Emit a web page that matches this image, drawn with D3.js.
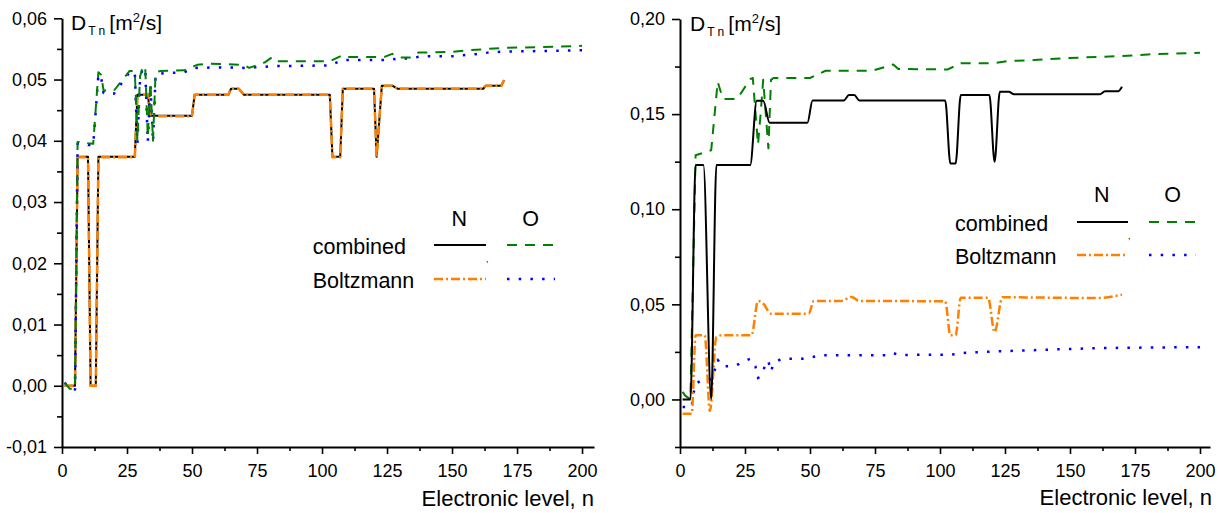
<!DOCTYPE html>
<html>
<head>
<meta charset="utf-8">
<script src="https://cdn.jsdelivr.net/npm/d3@7"></script>
<style>
  html, body { margin: 0; padding: 0; background: #fff; }
  svg { display: block; font-family: "Liberation Sans", Arial, sans-serif; }
</style>
</head>
<body>
<svg id="chart" width="1223" height="513"></svg>
<script>
// Thermal diffusion coefficients D_T,n versus electronic level n.
// Each series is a list of [level, value] vertices.

// ---- left panel ----
const leftNCombined = [[1,0.0000],[5,0.0000],[6,0.0374],[10,0.0374],[11,0.0000],[13,0.0000],[14,0.0374],[28,0.0374],[29,0.0475],[33,0.0475],[34,0.0441],[50,0.0441],[51,0.0475],[64,0.0475],[65,0.0485],[68,0.0485],[70,0.0475],[103,0.0475],[104,0.0374],[107,0.0374],[108,0.0485],[120,0.0485],[121,0.0374],[123,0.0490],[127,0.0490],[129,0.0485],[162,0.0485],[163,0.0490],[169,0.0490],[170,0.0499]];
const leftNBoltzmann = [[1,0.0000],[5,0.0000],[6,0.0373],[10,0.0373],[11,0.0000],[13,0.0000],[14,0.0373],[28,0.0373],[29,0.0475],[33,0.0475],[34,0.0440],[50,0.0440],[51,0.0475],[64,0.0475],[65,0.0485],[68,0.0485],[70,0.0475],[103,0.0475],[104,0.0373],[107,0.0373],[108,0.0485],[120,0.0485],[121,0.0373],[123,0.0490],[127,0.0490],[129,0.0485],[162,0.0485],[163,0.0490],[169,0.0490],[170,0.0499]];
const leftOCombined = [[1,0.0005],[3,-0.0005],[5,-0.0005],[6,0.0398],[9,0.0398],[10,0.0396],[12,0.0395],[14,0.0512],[15,0.0508],[16,0.0482],[20,0.0482],[26,0.0514],[28,0.0514],[29,0.0400],[30,0.0505],[31,0.0520],[32,0.0522],[33,0.0406],[34,0.0495],[35,0.0400],[36,0.0512],[38,0.0514],[47,0.0515],[52,0.0524],[56,0.0526],[63,0.0525],[70,0.0524],[72,0.0519],[78,0.0528],[81,0.0537],[83,0.0530],[103,0.0530],[108,0.0540],[110,0.0537],[124,0.0537],[127,0.0542],[130,0.0536],[134,0.0536],[137,0.0544],[150,0.0545],[157,0.0548],[164,0.0550],[171,0.0552],[185,0.0553],[200,0.0555]];
const leftOBoltzmann = [[1,0.0005],[3,-0.0004],[5,-0.0006],[6,0.0395],[9,0.0395],[10,0.0393],[12,0.0393],[14,0.0508],[15,0.0505],[16,0.0478],[20,0.0477],[26,0.0512],[28,0.0512],[29,0.0395],[30,0.0500],[31,0.0518],[32,0.0518],[33,0.0398],[34,0.0492],[35,0.0398],[36,0.0508],[38,0.0510],[47,0.0512],[51,0.0519],[63,0.0520],[70,0.0519],[74,0.0520],[82,0.0522],[103,0.0523],[108,0.0532],[126,0.0532],[130,0.0535],[134,0.0534],[138,0.0538],[150,0.0538],[158,0.0541],[166,0.0545],[175,0.0546],[192,0.0547],[200,0.0548]];

// ---- right panel ----
const rightNCombined = [[1,0.0000],[4,0.0000],[6,0.1232],[9,0.1232],[12,0.0000],[14,0.1232],[27,0.1232],[29.5,0.1570],[32,0.1570],[34.5,0.1454],[49,0.1454],[51,0.1572],[63,0.1572],[65,0.1600],[67,0.1600],[69,0.1572],[102,0.1572],[104,0.1240],[106,0.1240],[108,0.1600],[119,0.1600],[121,0.1249],[123,0.1617],[126.5,0.1617],[128.5,0.1604],[161.5,0.1604],[163.5,0.1620],[168.5,0.1620],[170,0.1644]];
const rightNBoltzmann = [[1,-0.0075],[4.5,-0.0075],[6,0.0337],[9.5,0.0337],[11.5,-0.0060],[14,0.0328],[16,0.0337],[27.5,0.0337],[30,0.0518],[32,0.0504],[35,0.0451],[49.5,0.0451],[51.5,0.0518],[62,0.0518],[66,0.0539],[69,0.0518],[102,0.0516],[104,0.0337],[106,0.0337],[108,0.0535],[118.5,0.0535],[121,0.0354],[124,0.0537],[161,0.0533],[170,0.0551]];
const rightOCombined = [[1,0.0040],[2,0.0020],[4,0.0000],[6,0.1284],[12,0.1310],[14.5,0.1670],[16.5,0.1580],[22,0.1580],[27,0.1684],[28,0.1690],[30,0.1340],[31,0.1500],[32,0.1680],[33,0.1500],[34,0.1320],[35,0.1680],[36,0.1690],[50,0.1690],[56,0.1728],[74,0.1728],[82,0.1761],[84,0.1737],[103,0.1735],[108,0.1767],[120,0.1767],[126,0.1779],[136,0.1784],[142,0.1790],[155,0.1798],[170,0.1805],[180,0.1814],[200,0.1822]];
const rightOBoltzmann = [[1,-0.0040],[4.5,-0.0040],[5,0.0020],[6,0.0083],[9,0.0105],[12,0.0105],[13.5,0.0160],[14.5,0.0209],[16,0.0175],[21,0.0175],[24,0.0196],[27,0.0214],[29,0.0175],[30,0.0112],[32,0.0144],[33,0.0200],[34,0.0200],[35,0.0147],[36,0.0191],[39,0.0214],[47,0.0214],[51,0.0223],[55,0.0232],[80,0.0232],[82,0.0244],[84,0.0234],[104,0.0235],[110,0.0246],[123,0.0253],[142,0.0262],[161,0.0270],[173,0.0272],[200,0.0275]];

// ---- axis ticks ----
const xTicks = [0, 25, 50, 75, 100, 125, 150, 175, 200];
const xMinorTicks = [12.5, 37.5, 62.5, 87.5, 112.5, 137.5, 162.5, 187.5];
const leftYTicks = [-0.01, 0.00, 0.01, 0.02, 0.03, 0.04, 0.05, 0.06];
const leftYMinorTicks = [-0.005, 0.005, 0.015, 0.025, 0.035, 0.045, 0.055];
const rightYTicks = [0.00, 0.05, 0.10, 0.15, 0.20];
const rightYMinorTicks = [-0.025, 0.025, 0.075, 0.125, 0.175];

// ---- legend labels ----
const speciesLabels = ["N", "O"];
const modelLabels = ["combined", "Boltzmann"];

const styles = {
  nComb:  { color: "#000000", width: 2,   dash: null },
  nBoltz: { color: "#ff8000", width: 2.5, dash: "9,3,2,3" },
  oComb:  { color: "#008000", width: 2,   dash: "10,8" },
  oBoltz: { color: "#0000ff", width: 2.5, dash: "2.5,9.2" }
};

const svg = d3.select("#chart");
const fmt = v => (Math.abs(v) < 1e-9 ? "0,00" : v.toFixed(2).replace(".", ","));

function drawPanel(cfg) {
  const x = d3.scaleLinear().domain(cfg.xDomain).range([cfg.left, cfg.right]);
  const y = d3.scaleLinear().domain(cfg.yDomain).range([cfg.bottom, cfg.top]);
  const g = svg.append("g");

  // minor ticks
  g.append("g").attr("transform", `translate(0,${cfg.bottom})`)
    .call(d3.axisBottom(x).tickValues(xMinorTicks).tickSize(4).tickFormat(""))
    .call(a => a.select(".domain").remove())
    .call(a => a.selectAll("line").attr("stroke-width", 1.6));
  g.append("g").attr("transform", `translate(${cfg.left},0)`)
    .call(d3.axisLeft(y).tickValues(cfg.yMinor).tickSize(5).tickFormat(""))
    .call(a => a.select(".domain").remove())
    .call(a => a.selectAll("line").attr("stroke-width", 1.6));

  // major ticks
  g.append("g").attr("transform", `translate(0,${cfg.bottom})`)
    .call(d3.axisBottom(x).tickValues(xTicks).tickSize(7).tickSizeOuter(0).tickPadding(10).tickFormat(d3.format("d")))
    .call(a => a.select(".domain").attr("stroke-width", 2))
    .call(a => a.selectAll("line").attr("stroke-width", 1.6))
    .call(a => a.selectAll("text").attr("font-size", 18).attr("fill", "#000")
      .attr("font-family", "Liberation Sans, Arial, sans-serif"));
  g.append("g").attr("transform", `translate(${cfg.left},0)`)
    .call(d3.axisLeft(y).tickValues(cfg.yTicks).tickSize(8).tickSizeOuter(0).tickPadding(7).tickFormat(fmt))
    .call(a => a.select(".domain").attr("stroke-width", 2))
    .call(a => a.selectAll("line").attr("stroke-width", 1.6))
    .call(a => a.selectAll("text").attr("font-size", 18).attr("fill", "#000")
      .attr("font-family", "Liberation Sans, Arial, sans-serif"));

  // data lines
  cfg.series.forEach(s => {
    const line = d3.line().x(d => x(d[0])).y(d => y(d[1])).curve(s.curve);
    const st = styles[s.style];
    g.append("path").datum(s.data)
      .attr("d", line)
      .attr("fill", "none")
      .attr("stroke", st.color)
      .attr("stroke-width", st.width)
      .attr("stroke-dasharray", st.dash)
      .attr("stroke-linejoin", "round");
  });

  // y-axis title
  const t = g.append("text").attr("x", cfg.titleX).attr("y", cfg.titleY)
    .attr("font-size", 21).attr("fill", "#000");
  t.append("tspan").text("D");
  t.append("tspan").attr("font-size", 12).attr("dx", 2).attr("dy", 5).text("T n");
  t.append("tspan").attr("dx", 4).attr("dy", -5).text("[m");
  t.append("tspan").attr("font-size", 13).attr("dy", -8).text("2");
  t.append("tspan").attr("dy", 8).text("/s]");

  // x-axis title
  g.append("text").attr("x", cfg.xTitleX).attr("y", cfg.xTitleY)
    .attr("text-anchor", "end").attr("font-size", 22).attr("fill", "#000")
    .text("Electronic level, n");

  // legend
  const L = cfg.legend;
  g.append("text").attr("x", L.nX).attr("y", L.headY).attr("text-anchor", "middle")
    .attr("font-size", 21.5).text(speciesLabels[0]);
  g.append("text").attr("x", L.oX).attr("y", L.headY).attr("text-anchor", "middle")
    .attr("font-size", 21.5).text(speciesLabels[1]);
  [[modelLabels[0], L.row1, "nComb", "oComb"], [modelLabels[1], L.row2, "nBoltz", "oBoltz"]]
    .forEach(([label, row, sn, so]) => {
      g.append("text").attr("x", L.textX).attr("y", row + 8.5).attr("font-size", 21.5).text(label);
      [[sn, L.nLine], [so, L.oLine]].forEach(([k, xs]) => {
        const st = styles[k];
        g.append("line").attr("x1", xs[0]).attr("x2", xs[1]).attr("y1", row).attr("y2", row)
          .attr("stroke", st.color).attr("stroke-width", st.width)
          .attr("stroke-dasharray", st.dash);
      });
    });
  g.append("text").attr("x", L.commaX).attr("y", L.commaY).attr("font-size", 9).text(",");
}

drawPanel({
  left: 62, right: 594, top: 18.3, bottom: 447,
  xDomain: [0, 204.6], yDomain: [-0.01, 0.06],
  yTicks: leftYTicks, yMinor: leftYMinorTicks,
  titleX: 71, titleY: 29.5, xTitleX: 594, xTitleY: 506,
  series: [
    { data: leftNCombined, style: "nComb", curve: d3.curveLinear },
    { data: leftNBoltzmann, style: "nBoltz", curve: d3.curveLinear },
    { data: leftOBoltzmann, style: "oBoltz", curve: d3.curveLinear },
    { data: leftOCombined, style: "oComb", curve: d3.curveLinear }
  ],
  legend: { nX: 459.3, oX: 530.7, headY: 226, textX: 312.7, row1: 245, row2: 279,
            nLine: [434, 486], oLine: [507, 555], commaX: 486, commaY: 262 }
});

drawPanel({
  left: 680, right: 1210, top: 19, bottom: 447,
  xDomain: [0, 203.85], yDomain: [-0.025, 0.20],
  yTicks: rightYTicks, yMinor: rightYMinorTicks,
  titleX: 690, titleY: 31, xTitleX: 1212, xTitleY: 505,
  series: [
    { data: rightOCombined, style: "oComb", curve: d3.curveLinear },
    { data: rightOBoltzmann, style: "oBoltz", curve: d3.curveLinear },
    { data: rightNBoltzmann, style: "nBoltz", curve: d3.curveMonotoneX },
    { data: rightNCombined, style: "nComb", curve: d3.curveMonotoneX }
  ],
  legend: { nX: 1101.7, oX: 1172.7, headY: 202, textX: 955, row1: 222, row2: 255,
            nLine: [1077, 1128], oLine: [1149, 1196], commaX: 1128, commaY: 239 }
});
</script>
</body>
</html>
